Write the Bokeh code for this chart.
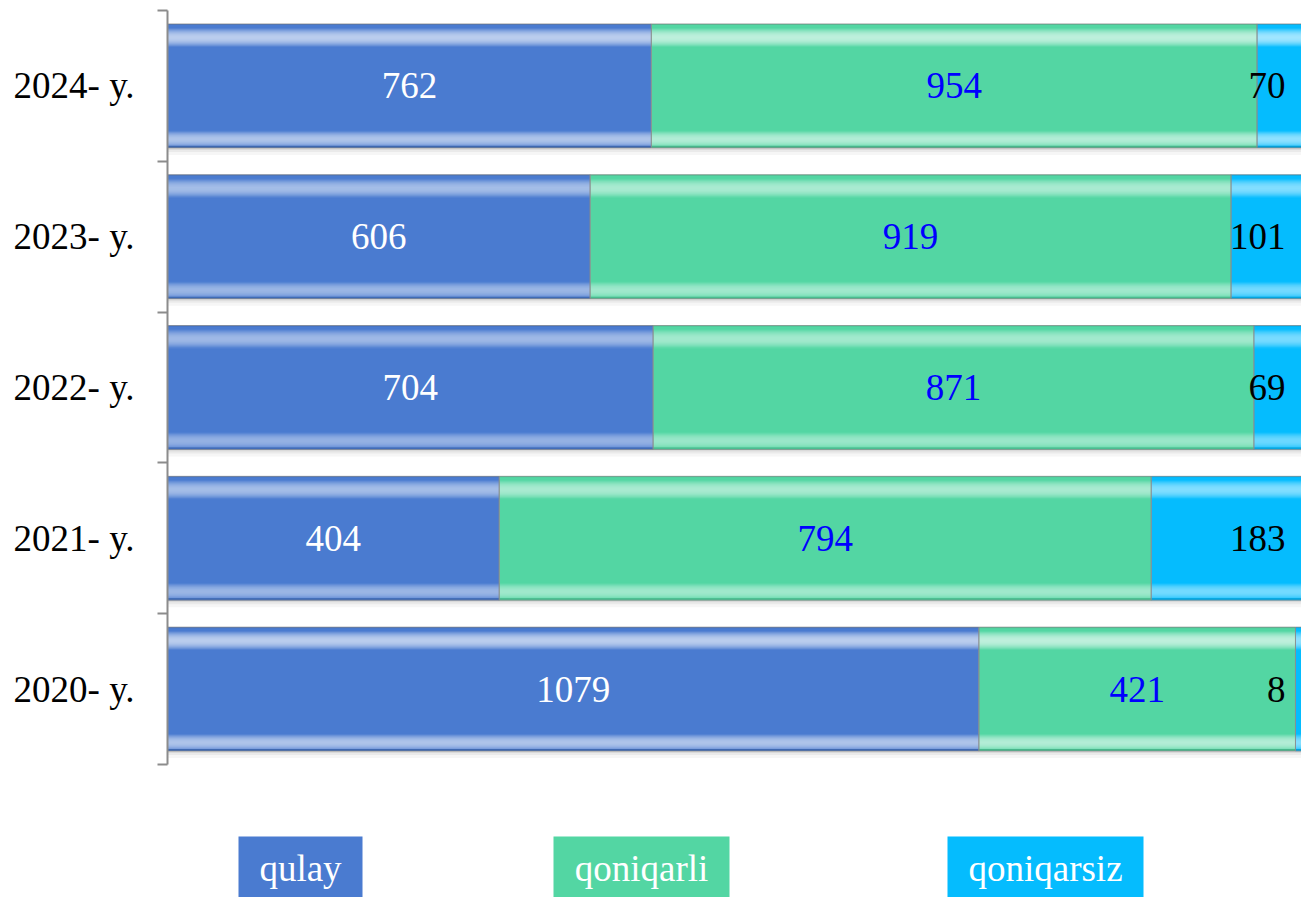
from bokeh.plotting import figure
from bokeh.models import Range1d, FixedTicker, ColumnDataSource
from bokeh.layouts import column
from bokeh.core.properties import value
from bokeh.embed import file_html
from bokeh.resources import INLINE

# ---------------- data ----------------
years = ["2020- y.", "2021- y.", "2022- y.", "2023- y.", "2024- y."]
qulay = [1079, 404, 704, 606, 762]
qoniqarli = [421, 794, 871, 919, 954]
qoniqarsiz = [8, 183, 69, 101, 70]
series_names = ["qulay", "qoniqarli", "qoniqarsiz"]

# ---------------- style ----------------
FONT = "Liberation Serif"
COLORS = ["#4A7BD0", "#53D6A3", "#05BCFE"]
LABEL_COLORS = ["#FFFFFF", "#0000FF", "#000000"]
BAR_H = 0.822
FS = "37px"
W = 1301
LEFT = 167
MAIN_H = 766
LEG_H = 897 - MAIN_H


def mix(hex_color, amt):
    h = hex_color.lstrip("#")
    r, g, b = int(h[0:2], 16), int(h[2:4], 16), int(h[4:6], 16)
    if amt >= 0:
        r, g, b = [int(round(c + (255 - c) * amt)) for c in (r, g, b)]
    else:
        r, g, b = [int(round(c * (1 + amt))) for c in (r, g, b)]
    return "#%02x%02x%02x" % (r, g, b)


# stacked percentages
ys = [i + 0.5 for i in range(len(years))]
totals = [a + b + c for a, b, c in zip(qulay, qoniqarli, qoniqarsiz)]
series = [qulay, qoniqarli, qoniqarsiz]
lefts, rights, yy, cols = [], [], [], []
for i in range(len(years)):
    acc = 0.0
    for s in range(3):
        frac = series[s][i] / totals[i]
        lefts.append(acc)
        rights.append(acc + frac)
        acc += frac
        yy.append(ys[i])
        cols.append(COLORS[s])

p = figure(width=W, height=MAIN_H, output_backend="svg", toolbar_location=None,
           x_range=Range1d(0, 1), y_range=Range1d(0, 5),
           x_axis_location=None, min_border_left=LEFT, min_border_right=0,
           min_border_top=10, min_border_bottom=2)
p.outline_line_color = None
p.grid.visible = False
p.background_fill_color = "white"

PX = 5 / 754.0  # data units per pixel (vertical)

# soft shadow below bars
for (d0, d1, a) in [(0, 2, 0.28), (2, 4, 0.16), (4, 7, 0.07)]:
    p.hbar(y=[y - BAR_H / 2 - (d0 + d1) / 2 * PX for y in ys],
           left=0, right=1, height=(d1 - d0) * PX,
           fill_color="#7a7a7a", fill_alpha=a, line_color=None)

src = ColumnDataSource(dict(left=lefts, right=rights, y=yy, color=cols))
p.hbar(y="y", left="left", right="right", height=BAR_H, fill_color="color",
       line_color=None, source=src)

# tube-like gradient (smooth 1px strips across a 124px bar)
NPX = 124


def shade(t):
    m = 0.0
    for c, hw, pk in [(13.5, 9.5, 0.62), (115.5, 8.5, 0.55)]:
        d = (t - c) / hw
        if abs(d) < 1:
            m = max(m, pk * (1 - d * d))
    if t < 1.5:
        m = -0.1
    if t > NPX - 2:
        m = -0.15
    return m


for t in range(NPX):
    m = shade(t + 0.5)
    if abs(m) < 0.02:
        continue
    f0, f1 = t / NPX, (t + 1) / NPX
    sy = [y + BAR_H / 2 - (f0 + f1) / 2 * BAR_H for y in yy]
    scol = [mix(c, m) for c in cols]
    p.hbar(y=sy, left=lefts, right=rights, height=(f1 - f0) * BAR_H * 1.02,
           fill_color=scol, line_color=None)

# outlines / separators
p.hbar(y="y", left="left", right="right", height=BAR_H, fill_alpha=0,
       line_color="#8a8a8a", line_alpha=0.7, line_width=1, source=src)

# value labels
for s in range(3):
    xs, ty, tt = [], [], []
    for i in range(len(years)):
        k = i * 3 + s
        xs.append((lefts[k] + rights[k]) / 2 if s < 2 else 1.0)
        ty.append(ys[i])
        tt.append(str(series[s][i]))
    p.text(x=xs, y=ty, text=tt, text_font=value(FONT), text_font_size=FS,
           text_color=LABEL_COLORS[s], text_baseline="middle",
           text_align="center" if s < 2 else "right",
           x_offset=0 if s < 2 else -16)

ax = p.yaxis[0]
ax.ticker = FixedTicker(ticks=ys, minor_ticks=[float(i) for i in range(len(years) + 1)])
ax.major_label_overrides = {y: t for y, t in zip(ys, years)}
ax.major_tick_out = 0
ax.major_tick_in = 0
ax.minor_tick_out = 10
ax.minor_tick_in = 0
ax.minor_tick_line_color = "#8c8c8c"
ax.minor_tick_line_width = 2
ax.axis_line_color = "#8c8c8c"
ax.axis_line_width = 2
ax.major_label_standoff = 23
ax.major_label_text_font = FONT
ax.major_label_text_font_size = FS
ax.major_label_text_color = "#000000"

# ---------------- legend strip (data coords = page pixels) ----------------
leg = figure(width=W, height=LEG_H, output_backend="svg", toolbar_location=None,
             x_range=Range1d(LEFT, W), y_range=Range1d(LEG_H, 0),
             x_axis_location=None, y_axis_location=None,
             min_border_left=LEFT, min_border_right=0, min_border_top=0, min_border_bottom=0)
leg.outline_line_color = None
leg.grid.visible = False
box_l = [238, 553, 947]
box_r = [362, 729, 1143]
leg.quad(left=box_l, right=box_r, top=70, bottom=LEG_H + 10, fill_color=COLORS, line_color=None)
leg.text(x=[(a + b) / 2 for a, b in zip(box_l, box_r)], y=[102] * 3, text=series_names,
         text_font=value(FONT), text_font_size=FS, text_color="#FFFFFF",
         text_align="center", text_baseline="middle")

layout = column(p, leg, spacing=0)
open("out.html", "w").write(file_html(layout, INLINE))
